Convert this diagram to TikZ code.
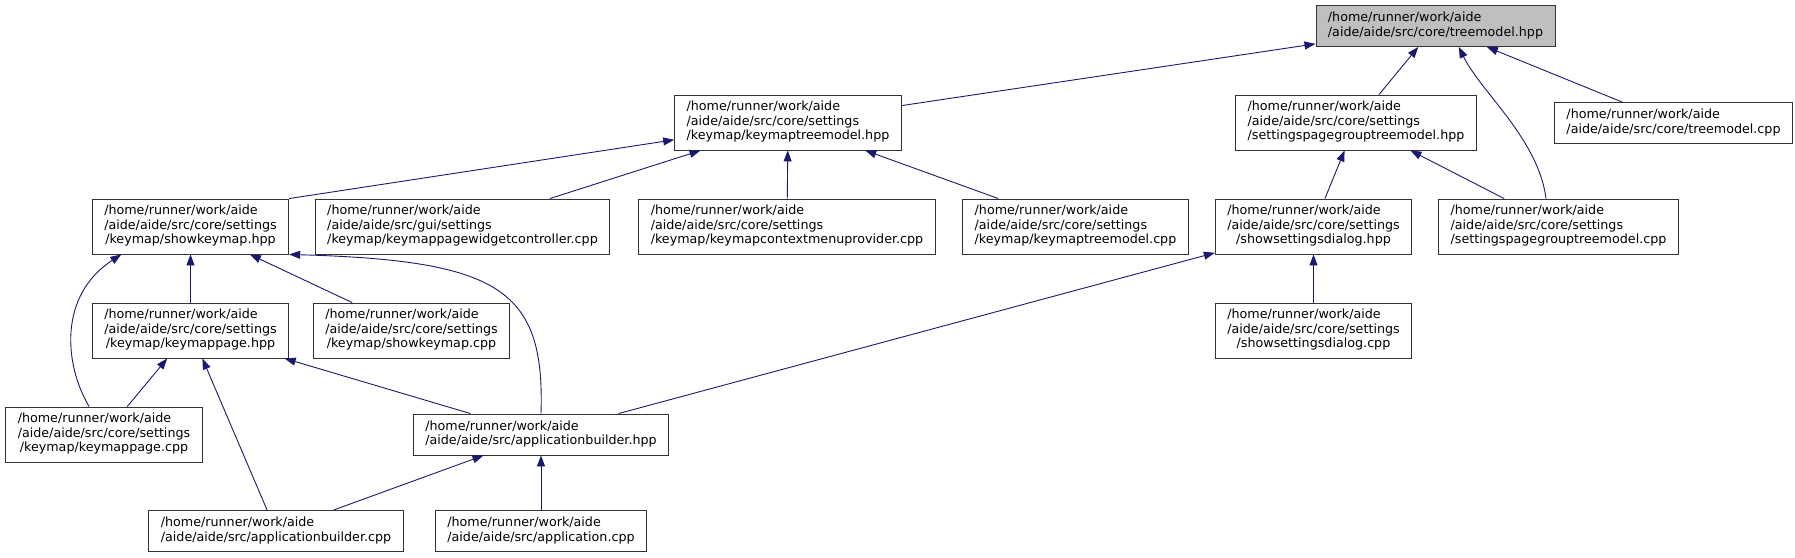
\documentclass[tikz,border=0pt]{standalone}
\usepackage{fontspec}
\setmainfont{DejaVu Sans}
\usetikzlibrary{arrows.meta}
\definecolor{edgeblue}{HTML}{191970}
\definecolor{focusgray}{HTML}{BFBFBF}
\newcommand{\pathlbl}[2]{\begin{tabular}{@{}l@{}}#1\\\multicolumn{1}{@{}c@{}}{#2}\end{tabular}}
\tikzset{
  file/.style={draw=black!80, line width=0.9pt, fill=white, inner xsep=12pt, inner ysep=0pt, minimum height=55pt},
  file2/.style={file, minimum height=41pt},
  focus/.style={file2, fill=focusgray},
  dep/.style={draw=edgeblue, line width=0.9pt, -{Triangle[length=11pt,width=8pt]}}
}
\begin{document}
\begin{tikzpicture}[x=1pt,y=1pt,font=\fontsize{12.7}{14.5}\selectfont]
  \useasboundingbox (0,0) rectangle (1795,-557);
  \node[focus] (tmh) at (1435.5,-26) {\pathlbl{/home/runner/work/aide}{/aide/aide/src/core/treemodel.hpp}};
  \node[file] (kmtmh) at (788,-122.5) {\pathlbl{/home/runner/work/aide\\/aide/aide/src/core/settings}{/keymap/keymaptreemodel.hpp}};
  \node[file] (spgtmh) at (1356,-122.5) {\pathlbl{/home/runner/work/aide\\/aide/aide/src/core/settings}{/settingspagegrouptreemodel.hpp}};
  \node[file2] (tmc) at (1673.5,-123) {\pathlbl{/home/runner/work/aide}{/aide/aide/src/core/treemodel.cpp}};
  \node[file] (skmh) at (190.5,-226.5) {\pathlbl{/home/runner/work/aide\\/aide/aide/src/core/settings}{/keymap/showkeymap.hpp}};
  \node[file] (kmpwcc) at (462.5,-226.5) {\pathlbl{/home/runner/work/aide\\/aide/aide/src/gui/settings}{/keymap/keymappagewidgetcontroller.cpp}};
  \node[file] (kmcmpc) at (787,-226.5) {\pathlbl{/home/runner/work/aide\\/aide/aide/src/core/settings}{/keymap/keymapcontextmenuprovider.cpp}};
  \node[file] (kmtmc) at (1075.5,-226.5) {\pathlbl{/home/runner/work/aide\\/aide/aide/src/core/settings}{/keymap/keymaptreemodel.cpp}};
  \node[file] (ssdh) at (1313.5,-226.5) {\pathlbl{/home/runner/work/aide\\/aide/aide/src/core/settings}{/showsettingsdialog.hpp}};
  \node[file] (spgtmc) at (1558.5,-226.5) {\pathlbl{/home/runner/work/aide\\/aide/aide/src/core/settings}{/settingspagegrouptreemodel.cpp}};
  \node[file] (kmph) at (190.5,-330.5) {\pathlbl{/home/runner/work/aide\\/aide/aide/src/core/settings}{/keymap/keymappage.hpp}};
  \node[file] (skmc) at (411.5,-330.5) {\pathlbl{/home/runner/work/aide\\/aide/aide/src/core/settings}{/keymap/showkeymap.cpp}};
  \node[file] (ssdc) at (1313.5,-330.5) {\pathlbl{/home/runner/work/aide\\/aide/aide/src/core/settings}{/showsettingsdialog.cpp}};
  \node[file] (kmpc) at (104,-434.5) {\pathlbl{/home/runner/work/aide\\/aide/aide/src/core/settings}{/keymap/keymappage.cpp}};
  \node[file2] (abh) at (541,-434.5) {\pathlbl{/home/runner/work/aide}{/aide/aide/src/applicationbuilder.hpp}};
  \node[file2] (abc) at (276,-531) {\pathlbl{/home/runner/work/aide}{/aide/aide/src/applicationbuilder.cpp}};
  \node[file2] (appc) at (541,-531) {\pathlbl{/home/runner/work/aide}{/aide/aide/src/application.cpp}};

  \draw[dep] (kmtmh) -- (tmh);
  \draw[dep] (spgtmh) -- (tmh);
  \draw[dep] (spgtmc.114.4) .. controls +(-8,60) and +(22,-45) .. (tmh.-42.9);
  \draw[dep] (tmc) -- (tmh);
  \draw[dep] (skmh.north east) -- (kmtmh);
  \draw[dep] (kmpwcc) -- (kmtmh);
  \draw[dep] (kmcmpc) -- (kmtmh);
  \draw[dep] (kmtmc) -- (kmtmh);
  \draw[dep] (ssdh) -- (spgtmh);
  \draw[dep] (spgtmc) -- (spgtmh);
  \draw[dep] (kmph) -- (skmh);
  \draw[dep] (skmc) -- (skmh);
  \draw[dep] (kmpc.118.6) .. controls +(-25,42) and +(-63,-41) .. (skmh.202.3);
  \draw[dep] (abh.north) .. controls +(4,124) and +(211,-6) .. (skmh.south east);
  \draw[dep] (kmpc) -- (kmph);
  \draw[dep] (abc) -- (kmph);
  \draw[dep] (abh) -- (kmph);
  \draw[dep] (abh) -- (ssdh);
  \draw[dep] (ssdc) -- (ssdh);
  \draw[dep] (abc) -- (abh);
  \draw[dep] (appc) -- (abh);
\end{tikzpicture}
\end{document}
